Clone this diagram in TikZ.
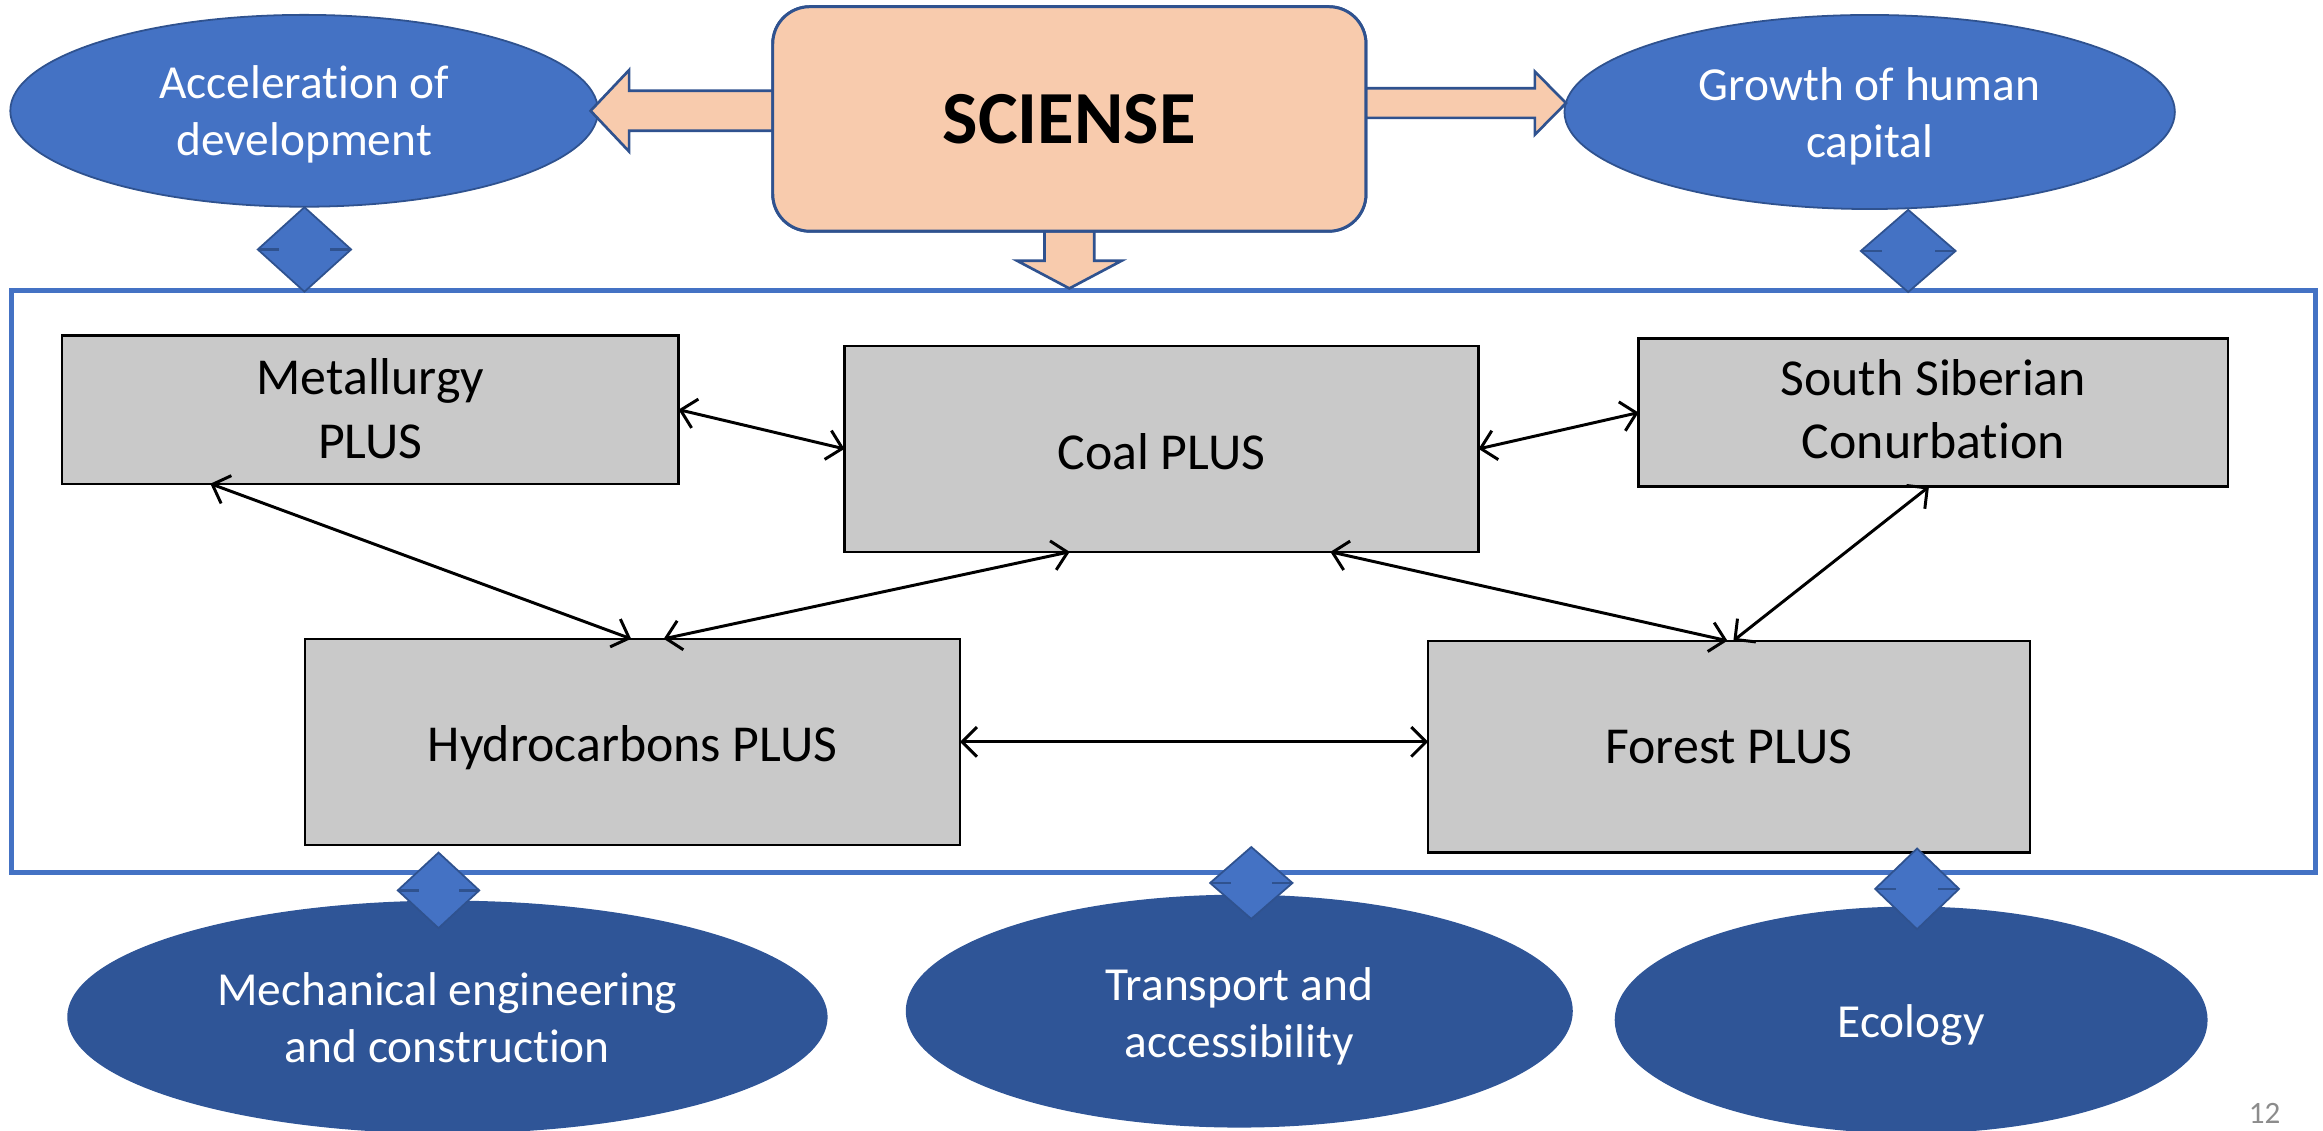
\documentclass[tikz,border=0pt]{standalone}
\usepackage{fontspec}
\setmainfont{Carlito}[Ligatures=NoCommon]
\usetikzlibrary{shapes.geometric,arrows.meta,calc}
\definecolor{blu}{HTML}{4472C4}
\definecolor{bluedge}{HTML}{2F528F}
\definecolor{dblu}{HTML}{2F5597}
\definecolor{peach}{HTML}{F8CBAD}
\definecolor{gboxc}{HTML}{C9C9C9}
\definecolor{pnum}{HTML}{8C8C8C}
\newcommand\pxu{0.5pt}
% lower a (possibly multi-line) text without changing its box size
\newcommand\lowtxt[2]{\raisebox{-#1}[\height][\depth]{\begin{tabular}{@{}c@{}}#2\end{tabular}}}
\begin{document}
\begin{tikzpicture}[x=0.5pt,y=-0.5pt,
 every node/.style={outer sep=0pt},
 topell/.style={ellipse, fill=blu, draw=bluedge, line width=0.6pt, text=white, inner sep=0pt, font=\fontsize{16}{19.3}\selectfont},
 botell/.style={ellipse, fill=dblu, draw=dblu, line width=0.6pt, text=white, inner sep=0pt, font=\fontsize{16}{19.2}\selectfont},
 graybox/.style={rectangle, fill=gboxc, draw=black, line width=0.8pt, inner sep=0pt, font=\fontsize{17.5}{21.4}\selectfont},
 scibox/.style={rectangle, rounded corners=12.5pt, fill=peach, draw=bluedge, line width=1pt, font=\bfseries\fontsize{25.3}{30}\selectfont},
 blockarrow/.style={fill=peach, draw=bluedge, line width=0.9pt, line join=miter},
 link/.style={{Straight Barb[length=5pt,width=10pt]}-{Straight Barb[length=5pt,width=10pt]}, line width=1pt, black},
 dia/.style={diamond, fill=blu, draw=bluedge, line width=0.6pt, inner sep=0pt},
 notch/.style={draw=bluedge, line width=0.9pt},
 outerframe/.style={draw=blu, line width=1.7pt, rectangle, inner sep=0pt},
]
\useasboundingbox (0,0) rectangle (1568,763);

% outer frame
\node[outerframe, minimum width=1555*\pxu, minimum height=393*\pxu] (fr) at (785.5,392.7) {};

% gray boxes
\node[graybox, minimum width=416*\pxu, minimum height=100*\pxu] (met) at (250,276.5) {\lowtxt{1.4pt}{Metallurgy\\PLUS}};
\node[graybox, minimum width=428*\pxu, minimum height=139*\pxu] (coal) at (784,303) {\lowtxt{2.75pt}{Coal PLUS}};
\node[graybox, minimum width=398*\pxu, minimum height=100*\pxu] (ssc) at (1305,278.5) {\lowtxt{0.65pt}{South Siberian\\Conurbation}};
\node[graybox, minimum width=442*\pxu, minimum height=139*\pxu] (hyd) at (427,500.7) {\lowtxt{2.45pt}{Hydrocarbons PLUS}};
\node[graybox, minimum width=406*\pxu, minimum height=143*\pxu] (fore) at (1167,504) {\lowtxt{1.35pt}{Forest PLUS}};

% links
\draw[link] (met.east) -- (coal.west);
\draw[link] (coal.east) -- (ssc.west);
\draw[link] ($(met.south)+(-108,0)$) -- ($(hyd.north)+(-1,0)$);
\draw[link] ($(coal.south)+(-62,0)$) -- ($(hyd.north)+(21,0)$);
\draw[link] ($(coal.south)+(114,0)$) -- ($(fore.north)+(-1,0)$);
\draw[link] ($(ssc.south)+(-3,0)$) -- ($(fore.north)+(3,0)$);
\draw[link] (hyd.east) -- (hyd.east -| fore.west);

% top ellipses
\node[topell, minimum width=396.7*\pxu, minimum height=129.5*\pxu] (acc) at (205.3,74.8) {\lowtxt{1.5pt}{Acceleration of\\development}};
\node[topell, minimum width=412*\pxu, minimum height=131*\pxu] (gro) at (1262,75.6) {\lowtxt{1.9pt}{Growth of human\\capital}};

% science box
\path (721.8,80.3) coordinate (scic);
\node[scibox, minimum width=400.4*\pxu, minimum height=151.5*\pxu] (sci) at (scic) {SCIENSE};

% block arrows
\coordinate (tl) at ($(acc.east)+(-5,0)$);
\draw[blockarrow] (tl) -- ++(26,-27.5) -- ++(0,14) -- ($(sci.west|-tl)+(0,-13.5)$) -- ($(sci.west|-tl)+(0,13.5)$) -- ($(tl)+(26,13.5)$) -- ++(0,14) -- cycle;
\coordinate (tr) at ($(gro.west)+(1,-6)$);
\draw[blockarrow] (tr) -- ++(-21,-21.3) -- ++(0,11.3) -- ($(sci.east|-tr)+(0,-10)$) -- ($(sci.east|-tr)+(0,10)$) -- ($(tr)+(-21,10)$) -- ++(0,11.3) -- cycle;
\coordinate (td) at ($(sci.south |- fr.north)+(0,-1.5)$);
\draw[blockarrow] (td) -- ++(-35.3,-18.7) -- ++(18.5,0) -- ($(sci.south)+(-16.8,0)$) -- ($(sci.south)+(16.8,0)$) -- ($(td)+(16.8,-18.7)$) -- ++(18.5,0) -- cycle;
% science box again, over the ends of the arrow shafts
\node[scibox, minimum width=400.4*\pxu, minimum height=151.5*\pxu] at (scic) {SCIENSE};

% bottom ellipses
\node[botell, minimum width=512*\pxu, minimum height=156*\pxu] (mech) at (302,686.5) {\lowtxt{2pt}{Mechanical engineering\\and construction}};
\node[botell, minimum width=449*\pxu, minimum height=156*\pxu] (tra) at (836.5,682.5) {\lowtxt{2.05pt}{Transport and\\accessibility}};
\node[botell, minimum width=399*\pxu, minimum height=152*\pxu] (eco) at (1290,688.5) {\lowtxt{2.1pt}{Ecology}};

% diamonds
\node[dia, minimum width=63*\pxu, minimum height=57*\pxu] (d1) at (205.5,168.4) {};
\node[dia, minimum width=64*\pxu, minimum height=55.5*\pxu] (d2) at (1288,169.4) {};
\node[dia, minimum width=55*\pxu, minimum height=51*\pxu] (d3) at (296,601) {};
\node[dia, minimum width=55.6*\pxu, minimum height=48.5*\pxu] (d4) at (844.6,596) {};
\node[dia, minimum width=56.6*\pxu, minimum height=54.5*\pxu] (d5) at (1294,600) {};
\foreach \d in {d1,d2,d3,d4,d5}{
  \draw[notch] (\d.west) -- ++(14,0);
  \draw[notch] (\d.east) -- ++(-14,0);
}

% page number
\node[text=pnum, font=\fontsize{10.5}{12}\selectfont, inner sep=0pt] (pg) at (1528.6,751.4) {12};
\end{tikzpicture}
\end{document}
